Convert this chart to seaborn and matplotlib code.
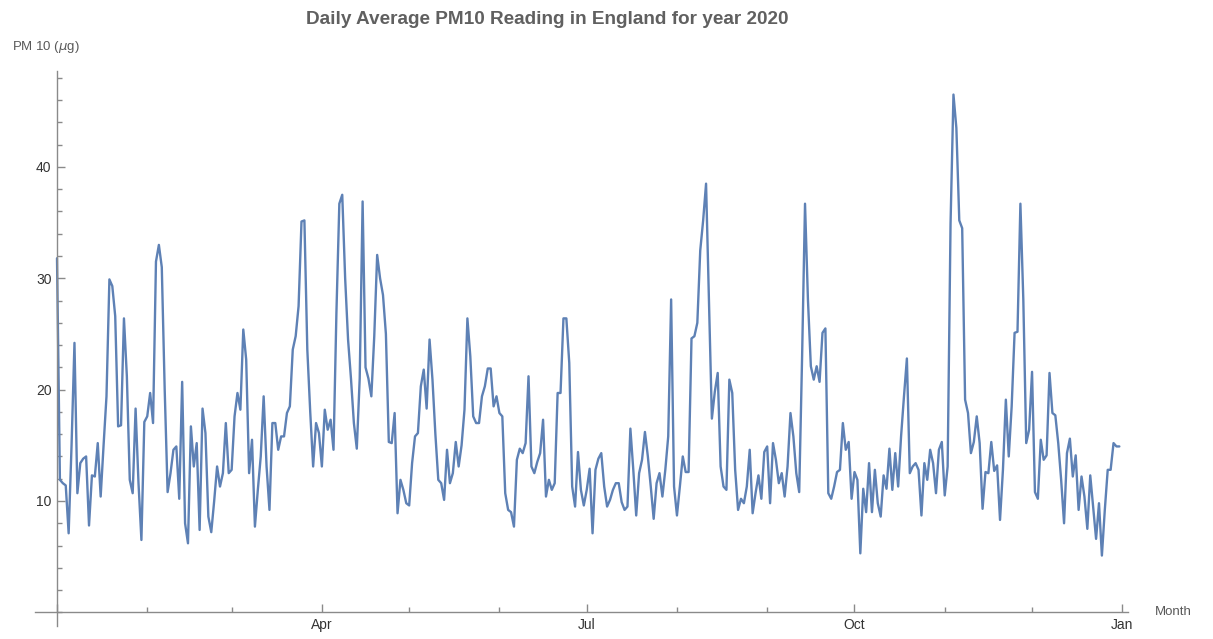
import numpy as np
import pandas as pd
import matplotlib
matplotlib.use("Agg")
import matplotlib.pyplot as plt
import seaborn as sns
from matplotlib.ticker import FixedLocator, MultipleLocator

# Daily average PM10 readings (µg), 2020
q1_values = [
    31.8, 11.9, 11.6, 11.4, 7.1, 15.0, 24.2, 10.7, 13.4, 13.8,
    14.0, 7.8, 12.3, 12.2, 15.2, 10.4, 15.0, 19.4, 29.9, 29.3,
    26.6, 16.7, 16.8, 26.4, 21.2, 11.9, 10.7, 18.3, 11.6, 6.5,
    17.1, 17.6, 19.7, 17.0, 31.5, 33.0, 31.0, 20.0, 10.8, 12.5,
    14.6, 14.9, 10.2, 20.7, 8.0, 6.2, 16.7, 13.1, 15.2, 7.4,
    18.3, 16.1, 8.6, 7.2, 10.0, 13.1, 11.3, 12.5, 17.0, 12.5,
    12.8, 17.6, 19.7, 18.2, 25.4, 22.7, 12.5, 15.5, 7.7, 11.0,
    14.0, 19.4, 13.1, 9.2, 17.0, 17.0, 14.6, 15.8, 15.8, 17.9,
    18.5, 23.6, 24.8, 27.5, 35.1, 35.2, 23.6, 18.0, 13.1, 17.0,
    16.1,
]
q2_values = [
    13.1, 18.2, 16.4, 17.3, 14.6, 26.9, 36.7, 37.5, 30.0,
    24.5, 21.0, 17.0, 14.7, 21.0, 36.9, 22.0, 21.0, 19.4, 24.8,
    32.1, 30.0, 28.5, 25.0, 15.3, 15.2, 17.9, 8.9, 11.9, 11.0,
    9.8, 9.6, 13.4, 15.8, 16.1, 20.3, 21.8, 18.3, 24.5, 20.9,
    16.0, 11.9, 11.6, 10.1, 14.6, 11.6, 12.5, 15.3, 13.1, 15.0,
    18.2, 26.4, 23.0, 17.6, 17.0, 17.0, 19.4, 20.3, 21.9, 21.9,
    18.5, 19.4, 17.9, 17.6, 10.7, 9.2, 9.0, 7.7, 13.7, 14.7,
    14.3, 15.2, 21.2, 13.1, 12.5, 13.5, 14.3, 17.3, 10.4, 11.9,
    11.0, 11.6, 19.7, 19.7, 26.4, 26.4, 22.4, 11.3, 9.5, 14.4,
    11.0, 9.6,
]
q3_values = [
    11.0, 12.9, 7.1, 12.8, 13.8, 14.3, 11.3, 9.5,
    10.1, 11.0, 11.6, 11.6, 9.9, 9.2, 9.5, 16.5, 12.8, 8.7,
    12.5, 13.7, 16.2, 14.0, 11.3, 8.4, 11.6, 12.5, 10.4, 12.8,
    15.8, 28.1, 11.3, 8.7, 11.3, 14.0, 12.6, 12.6, 24.6, 24.8,
    26.0, 32.5, 35.2, 38.5, 28.1, 17.4, 19.8, 21.5, 13.1, 11.3,
    11.0, 20.9, 19.7, 12.8, 9.2, 10.2, 9.8, 11.3, 14.6, 8.9,
    10.7, 12.3, 10.2, 14.4, 14.9, 9.8, 15.2, 13.7, 11.6, 12.5,
    10.4, 13.1, 17.9, 15.8, 12.5, 10.8, 23.0, 36.7, 28.1, 22.1,
    20.9, 22.1, 20.7, 25.1, 25.5, 10.7, 10.2, 11.3, 12.6, 12.8,
    17.0, 14.6, 15.3, 10.2,
]
q4_values = [
    12.6, 11.9, 5.3, 11.1, 9.0, 13.4,
    9.0, 12.8, 9.8, 8.6, 12.3, 11.1, 14.7, 11.0, 14.3, 11.3,
    15.8, 19.4, 22.8, 12.5, 13.1, 13.4, 12.8, 8.7, 13.4, 11.9,
    14.6, 13.4, 10.7, 14.6, 15.3, 10.5, 13.1, 34.9, 46.5, 43.5,
    35.2, 34.5, 19.1, 17.9, 14.3, 15.3, 17.6, 15.2, 9.3, 12.6,
    12.5, 15.3, 12.7, 13.2, 8.3, 12.8, 19.1, 14.0, 18.5, 25.1,
    25.2, 36.7, 28.1, 15.2, 16.4, 21.6, 10.8, 10.2, 15.5, 13.7,
    14.1, 21.5, 17.9, 17.7, 15.2, 11.9, 8.0, 14.3, 15.6, 12.2,
    14.1, 9.2, 12.2, 10.4, 7.5, 12.3, 9.5, 6.6, 9.8, 5.1,
    9.2, 12.8, 12.8, 15.2, 14.9, 14.9,
]

major_months = ["Apr", "Jul", "Oct", "Jan"]
y_major_ticks = [10, 20, 30, 40]
title = "Daily Average PM10 Reading in England for year 2020"
y_label = r"PM 10 ($\mu$g)"
x_label = "Month"

values = q1_values + q2_values + q3_values + q4_values
start = pd.Timestamp("2020-01-01")
dates = pd.date_range(start, periods=len(values), freq="D")
df = pd.DataFrame({"day": (dates - start).days, "pm10": values})

# month boundaries in day numbers
month_starts = [(pd.Timestamp(2020, m, 1) - start).days for m in range(1, 13)]
month_starts.append((pd.Timestamp(2021, 1, 1) - start).days)
major_pos = [month_starts[0], month_starts[3], month_starts[6], month_starts[9], month_starts[12]]
minor_pos = [p for p in month_starts if p not in major_pos]

sns.set_theme(style="white")
plt.rcParams["font.family"] = ["Liberation Sans", "DejaVu Sans"]

fig = plt.figure(figsize=(12.13, 6.39), dpi=100)
ax = fig.add_axes([0.029, 0.0208, 0.901, 0.8678])
sns.lineplot(data=df, x="day", y="pm10", ax=ax, color="#5E81B5", linewidth=1.7)

ax.set_xlim(-7.5, 368)
ax.set_ylim(-1.2, 48.6)

axis_color = "#8a8a8a"
for s in ["top", "right"]:
    ax.spines[s].set_visible(False)
ax.spines["left"].set_position(("data", 0))
ax.spines["bottom"].set_position(("data", 0))
for s in ["left", "bottom"]:
    ax.spines[s].set_color(axis_color)
    ax.spines[s].set_linewidth(1.0)

ax.xaxis.set_major_locator(FixedLocator(major_pos))
ax.set_xticklabels([""] + major_months)
ax.xaxis.set_minor_locator(FixedLocator(minor_pos))
ax.yaxis.set_major_locator(FixedLocator(y_major_ticks))
ax.yaxis.set_minor_locator(MultipleLocator(2))

ax.tick_params(axis="both", which="major", direction="in", length=6, width=1,
               color=axis_color, labelcolor="#333333", labelsize=10, pad=4)
ax.tick_params(axis="both", which="minor", direction="in", length=3.5, width=1,
               color=axis_color)
ax.tick_params(axis="x", which="both", bottom=True, top=False)
ax.tick_params(axis="y", which="both", left=True, right=False)
ax.set_xlabel("")
ax.set_ylabel("")
ax.grid(False)

fig.text(0.451, 0.969, title, ha="center", va="center", fontsize=13.7,
         fontweight="bold", color="#606060")
fig.text(12 / 1213, 1 - 47 / 639, y_label, ha="left", va="center",
         fontsize=9.5, color="#595959")
fig.text(1155 / 1213, 1 - 612 / 639, x_label, ha="left", va="center",
         fontsize=9.5, color="#595959")

fig.savefig("out.png", dpi=100)
